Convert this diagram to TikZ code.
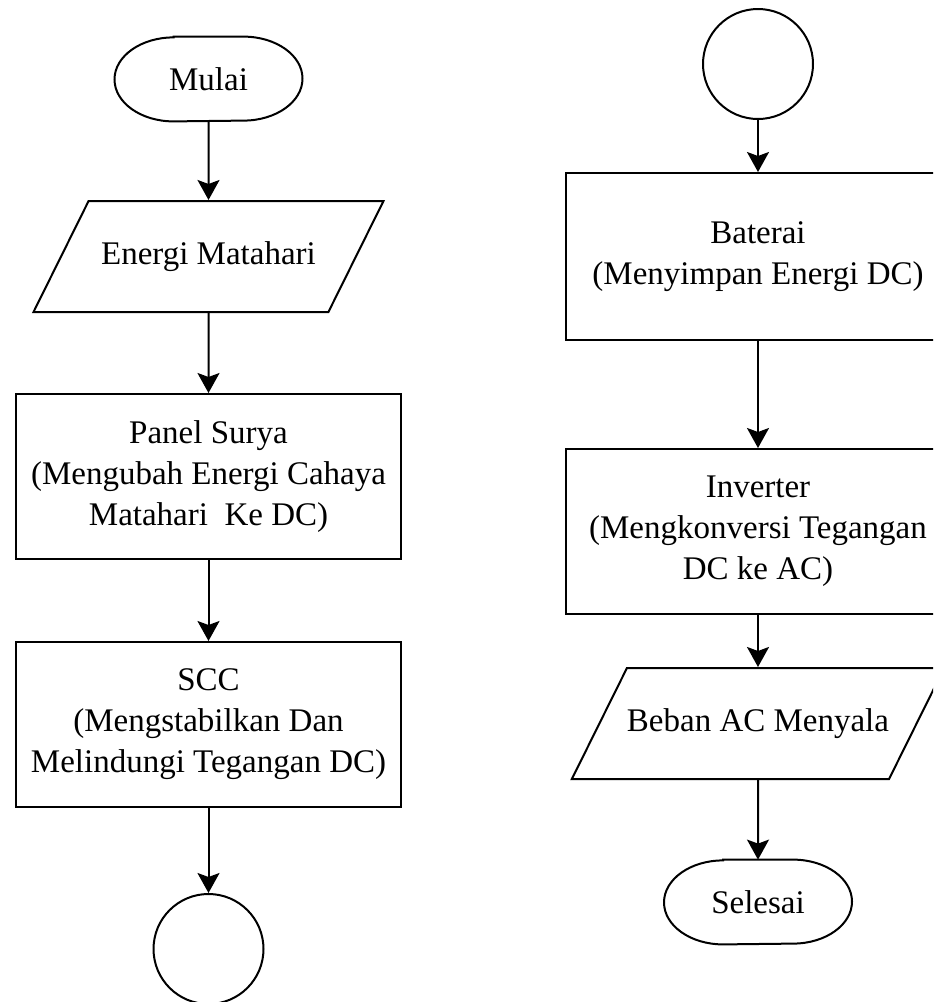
\documentclass[tikz,border=0pt]{standalone}
\usepackage{fontspec}
\setmainfont{Liberation Serif}
\usetikzlibrary{shapes.geometric,arrows.meta}
\begin{document}
\begin{tikzpicture}[x=0.5pt,y=-0.5pt,
	every node/.style={font=\fontsize{16.5}{20.5}\selectfont, inner sep=0pt, align=center},
	terminal/.style={minimum width=94pt, minimum height=42pt},
	proses/.style={draw, line width=1pt, minimum width=192.5pt, minimum height=82.5pt},
	data/.style={draw, line width=1pt, trapezium, trapezium left angle=63.6, trapezium right angle=116.4,
		trapezium stretches body, minimum width=175pt, text height=12pt, text depth=4pt, inner ysep=19.75pt},
	konektor/.style={draw, line width=1pt, circle, minimum size=55pt},
	alur/.style={line width=1pt, -{Stealth[length=10pt,width=11pt,inset=2pt]}}]
	\useasboundingbox (0,0) rectangle (933,1002);
	\clip (0,0) rectangle (933,1002);
	\node [terminal] (mulai) at (208.5,79) {Mulai};
	\node [data] (energi) at (208.5,256.5) {Energi Matahari};
	\node [proses] (panel) at (208.5,476.5) {Panel Surya\\(Mengubah Energi Cahaya\\Matahari~ Ke DC)};
	\node [proses] (scc) at (208.5,724.5) {SCC\\(Mengstabilkan Dan\\Melindungi Tegangan DC)};
	\node [konektor] (ka) at (208.5,949) {};
	\node [konektor] (kb) at (758,64) {};
	\node [proses, minimum height=83.5pt] (baterai) at (758,256.5) {Baterai\\(Menyimpan Energi DC)};
	\node [proses] (inverter) at (758,531.5) {Inverter\\(Mengkonversi Tegangan\\DC ke AC)};
	\node [data, minimum width=181pt] (beban) at (758,723.5) {Beban AC Menyala};
	\node [terminal] (selesai) at (758,902) {Selesai};
	\foreach \t in {mulai,selesai}
		\draw [line width=1pt] ([xshift=-17.5pt]\t.north) -- ([xshift=17.5pt]\t.north)
		arc [start angle=90, end angle=-90, x radius=29.5pt, y radius=21pt]
		-- ([xshift=-17.5pt]\t.south)
		arc [start angle=270, end angle=90, x radius=29.5pt, y radius=21pt] -- cycle;
	\foreach \a/\b in {mulai/energi,energi/panel,panel/scc,scc/ka,kb/baterai,baterai/inverter,inverter/beban,beban/selesai}
		\draw [alur] (\a) -- (\b);
\end{tikzpicture}
\end{document}
